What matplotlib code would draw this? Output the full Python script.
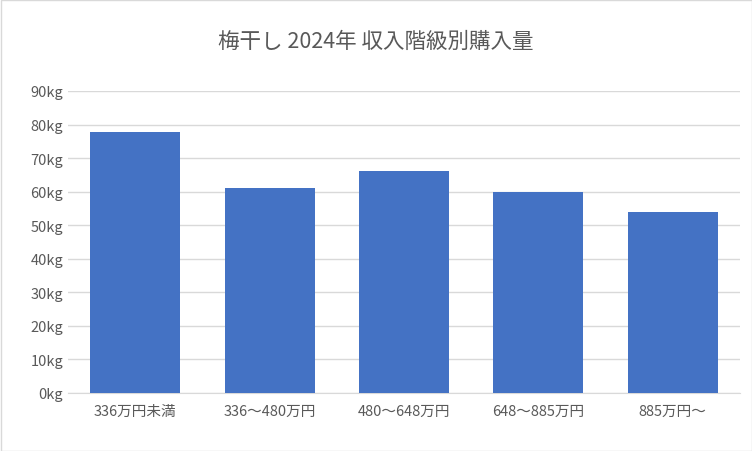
import matplotlib
matplotlib.use("Agg")
import matplotlib.pyplot as plt
from matplotlib.ticker import FuncFormatter

plt.rcParams['font.family'] = ['Noto Sans CJK JP', 'DejaVu Sans']

categories = ["336万円未満", "336～480万円", "480～648万円", "648～885万円", "885万円～"]
values = [77.8, 61.1, 66.2, 59.9, 53.9]
title = "梅干し 2024年 収入階級別購入量"

fig = plt.figure(figsize=(7.52, 4.52), dpi=100)
fig.patch.set_facecolor("white")
ax = fig.add_axes([68/752, 1-394/452, 672/752, 302/452])
ax.bar(range(len(categories)), values, width=0.67, color="#4472C4", zorder=3)
ax.set_xlim(-0.5, len(categories)-0.5)
ax.set_ylim(0, 90)
ax.set_yticks(range(0, 91, 10))
ax.yaxis.set_major_formatter(FuncFormatter(lambda v, p: f"{int(v)}kg"))
ax.set_xticks(range(len(categories)))
ax.set_xticklabels(categories)
ax.grid(axis="y", color="#d9d9d9", linewidth=1, zorder=0)
for s in ["top", "right", "left"]:
    ax.spines[s].set_visible(False)
ax.spines["bottom"].set_color("#d9d9d9")
ax.tick_params(length=0, colors="#595959", labelsize=10.5)
ax.tick_params(axis="x", pad=8)
fig.text(0.5, 1-42/452, title, ha="center", va="center", fontsize=15.5, color="#595959")
border = plt.Rectangle((0.5/752, 0.5/452), 751/752, 451/452, transform=fig.transFigure,
                       fill=False, edgecolor="#d9d9d9", linewidth=1)
fig.patches.append(border)
fig.savefig("out.png", dpi=100)
